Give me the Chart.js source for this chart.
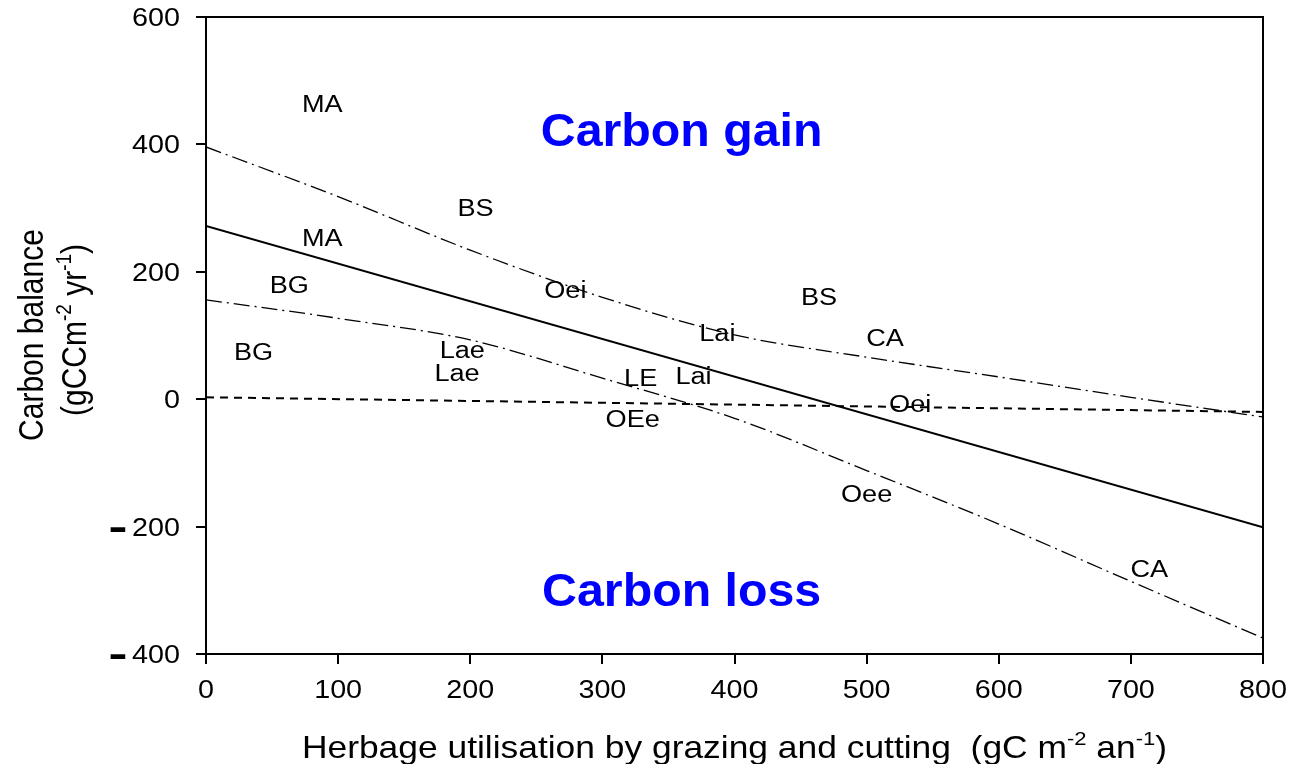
<!DOCTYPE html>
<html lang="en">
<head>
    <meta charset="UTF-8">
    <title>Carbon balance vs herbage utilisation</title>
    <script src="https://cdn.jsdelivr.net/npm/chart.js"></script>
    <style>
        html, body { margin: 0; padding: 0; background: #fff; }
        #wrap { width: 1292px; height: 764px; position: relative; }
    </style>
</head>
<body>
<div id="wrap">
    <canvas id="carbonChart"></canvas>
</div>
<script>
    // axis ticks
    const xTicks = [0, 100, 200, 300, 400, 500, 600, 700, 800];
    const yTicks = [-400, -200, 0, 200, 400, 600];

    // regression line and its confidence band
    const fitX = [0, 800];
    const fitY = [272, -201];
    const bandX = [0, 100, 200, 300, 400, 500, 600, 700, 800];
    const upperBand = [396, 318, 234, 160, 101, 66, 35, 3, -28];
    const lowerBand = [156, 127, 93, 33, -30, -112, -196, -286, -375];

    // near-zero reference line
    const refX = [0, 800];
    const refY = [3, -20];

    // site labels (herbage use, carbon balance)
    const siteNames = ['MA', 'BS', 'MA', 'BG', 'Oei', 'BS', 'Lai', 'CA', 'BG',
        'Lae', 'Lae', 'LE', 'Lai', 'Oei', 'OEe', 'Oee', 'CA'];
    const siteX = [88, 204, 88, 63, 272, 464, 387, 514, 36, 194, 190, 329, 369, 533, 323, 500, 714];
    const siteY = [461, 298, 251, 177, 169, 158, 102, 94, 72, 75, 39, 31, 34, -10, -33, -151, -269];

    // zone captions
    const zoneNames = ['Carbon gain', 'Carbon loss'];
    const zoneX = [360, 360];
    const zoneY = [418, -304];

    const FONT = '"Liberation Sans", Arial, sans-serif';

    function pairs(xs, ys) {
        return xs.map(function (x, i) { return { x: x, y: ys[i] }; });
    }

    // text drawn a little wider than normal
    function wideText(ctx, text, x, y, font, sx, align, baseline, color, thicken) {
        ctx.save();
        ctx.translate(x, y);
        ctx.scale(sx, 1);
        ctx.font = font;
        ctx.fillStyle = color || '#000';
        ctx.textAlign = align;
        ctx.textBaseline = baseline;
        ctx.fillText(text, 0, 0);
        if (thicken) {
            ctx.strokeStyle = color || '#000';
            ctx.lineWidth = thicken;
            ctx.strokeText(text, 0, 0);
        }
        ctx.restore();
    }

    // runs of [text, isSuperscript], drawn left to right from startX
    function runsWidth(ctx, runs, size) {
        var w = 0;
        runs.forEach(function (r) {
            ctx.font = (r[1] ? Math.round(size * 0.62) : size) + 'px ' + FONT;
            w += ctx.measureText(r[0]).width;
        });
        return w;
    }
    function drawRuns(ctx, runs, size, startX) {
        var x = startX;
        runs.forEach(function (r) {
            ctx.font = (r[1] ? Math.round(size * 0.62) : size) + 'px ' + FONT;
            ctx.fillText(r[0], x, r[1] ? -size * 0.42 : 0);
            x += ctx.measureText(r[0]).width;
        });
    }

    const textLayer = {
        id: 'textLayer',
        afterDraw: function (chart) {
            const ctx = chart.ctx;
            const xs = chart.scales.x, ys = chart.scales.y;
            const area = chart.chartArea;

            // frame: top and right sides
            ctx.save();
            ctx.strokeStyle = '#000';
            ctx.lineWidth = 2;
            ctx.beginPath();
            ctx.moveTo(area.left, area.top);
            ctx.lineTo(area.right, area.top);
            ctx.lineTo(area.right, area.bottom);
            ctx.stroke();
            ctx.restore();

            // site labels on the invisible points
            const meta = chart.getDatasetMeta(4);
            meta.data.forEach(function (pt, i) {
                wideText(ctx, siteNames[i], pt.x, pt.y, '23px ' + FONT, 1.18, 'center', 'middle');
            });

            // zone captions
            zoneNames.forEach(function (t, i) {
                wideText(ctx, t, xs.getPixelForValue(zoneX[i]), ys.getPixelForValue(zoneY[i]),
                    'bold 46px ' + FONT, 1.05, 'center', 'middle', '#0000ff');
            });

            // tick labels
            xTicks.forEach(function (v) {
                wideText(ctx, String(v), xs.getPixelForValue(v), 698, '25px ' + FONT, 1.15, 'center', 'alphabetic');
            });
            yTicks.forEach(function (v) {
                const py = ys.getPixelForValue(v) + 9;
                wideText(ctx, String(Math.abs(v)), 180, py, '25px ' + FONT, 1.15, 'right', 'alphabetic');
                if (v < 0) {
                    wideText(ctx, '\u2013', 125, py + 1, 'bold 25px ' + FONT, 1.0, 'right', 'alphabetic', '#000', 2.2);
                }
            });

            // x axis title
            const xRuns = [['Herbage utilisation by grazing and cutting  (gC m', false], ['-2', true],
                [' an', false], ['-1', true], [')', false]];
            ctx.save();
            ctx.fillStyle = '#000';
            ctx.textBaseline = 'alphabetic';
            ctx.textAlign = 'left';
            ctx.translate((area.left + area.right) / 2, 758);
            ctx.scale(1.16, 1);
            drawRuns(ctx, xRuns, 30.5, -runsWidth(ctx, xRuns, 30.5) / 2);
            ctx.restore();

            // y axis title, two lines
            ctx.save();
            ctx.fillStyle = '#000';
            ctx.textBaseline = 'alphabetic';
            ctx.textAlign = 'left';
            ctx.translate(43, 335);
            ctx.rotate(-Math.PI / 2);
            ctx.scale(1, 1.18);
            const line1 = [['Carbon balance', false]];
            drawRuns(ctx, line1, 30, -runsWidth(ctx, line1, 30) / 2);
            ctx.restore();

            ctx.save();
            ctx.fillStyle = '#000';
            ctx.textBaseline = 'alphabetic';
            ctx.textAlign = 'left';
            ctx.translate(86, 330);
            ctx.rotate(-Math.PI / 2);
            ctx.scale(1, 1.18);
            const line2 = [['(gCCm', false], ['-2', true], [' yr', false], ['-1', true], [')', false]];
            drawRuns(ctx, line2, 30, -runsWidth(ctx, line2, 30) / 2);
            ctx.restore();
        }
    };

    new Chart(document.getElementById('carbonChart').getContext('2d'), {
        type: 'line',
        data: {
            datasets: [
                {
                    label: 'fit',
                    data: pairs(fitX, fitY),
                    borderColor: '#000',
                    borderWidth: 2,
                    pointRadius: 0
                },
                {
                    label: 'upper',
                    data: pairs(bandX, upperBand),
                    borderColor: '#000',
                    borderWidth: 1.3,
                    borderDash: [16, 5, 2, 5],
                    cubicInterpolationMode: 'monotone',
                    pointRadius: 0
                },
                {
                    label: 'lower',
                    data: pairs(bandX, lowerBand),
                    borderColor: '#000',
                    borderWidth: 1.3,
                    borderDash: [16, 5, 2, 5],
                    cubicInterpolationMode: 'monotone',
                    pointRadius: 0
                },
                {
                    label: 'reference',
                    data: pairs(refX, refY),
                    borderColor: '#000',
                    borderWidth: 2,
                    borderDash: [8, 6],
                    pointRadius: 0
                },
                {
                    label: 'sites',
                    data: pairs(siteX, siteY),
                    showLine: false,
                    pointRadius: 0
                }
            ]
        },
        options: {
            responsive: true,
            maintainAspectRatio: false,
            animation: false,
            devicePixelRatio: 1,
            layout: { padding: { left: 0, right: 29, top: 17, bottom: 0 } },
            plugins: { legend: { display: false }, tooltip: { enabled: false } },
            scales: {
                x: {
                    type: 'linear',
                    min: 0,
                    max: 800,
                    ticks: { stepSize: 100, color: 'rgba(0,0,0,0)', font: { size: 8 } },
                    grid: { drawOnChartArea: false, drawTicks: true, tickLength: 10, color: '#000', lineWidth: 2 },
                    border: { display: true, color: '#000', width: 2 },
                    afterFit: function (s) { s.height = 110; }
                },
                y: {
                    type: 'linear',
                    min: -400,
                    max: 600,
                    ticks: { stepSize: 200, color: 'rgba(0,0,0,0)', font: { size: 8 } },
                    grid: { drawOnChartArea: false, drawTicks: true, tickLength: 10, color: '#000', lineWidth: 2 },
                    border: { display: true, color: '#000', width: 2 },
                    afterFit: function (s) { s.width = 206; }
                }
            }
        },
        plugins: [textLayer]
    });
</script>
</body>
</html>
